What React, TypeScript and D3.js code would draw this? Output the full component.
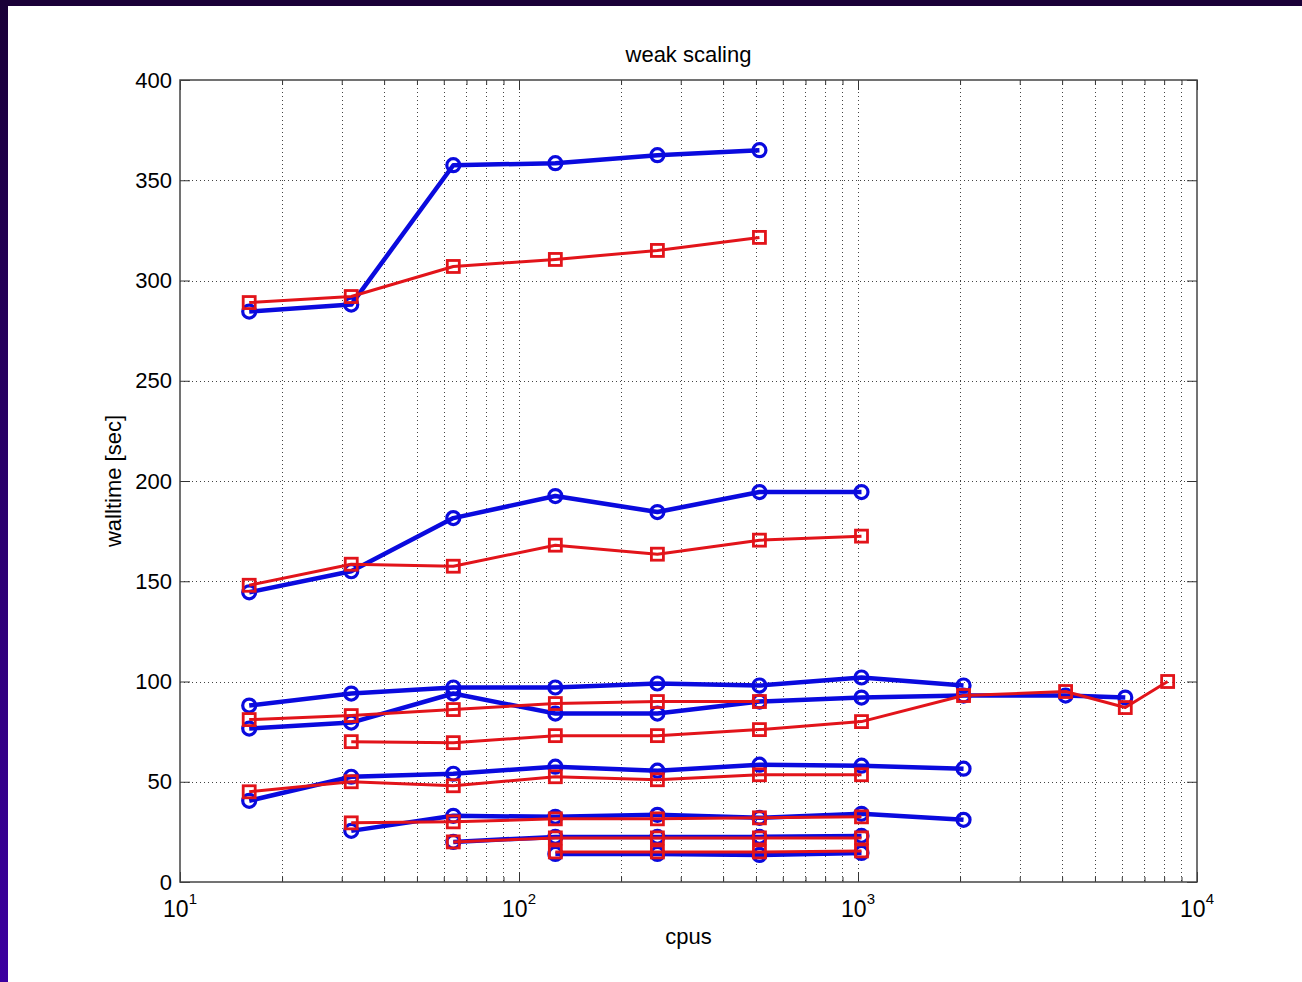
import React, { useEffect, useRef } from 'react'
import * as d3 from 'd3'

// processor counts on the x axis
const cpus = [16, 32, 64, 128, 256, 512, 1024, 2048, 4096, 6144, 8192];
const yTicks = [0, 50, 100, 150, 200, 250, 300, 350, 400];
const xExponents = [1, 2, 3, 4];

// walltime [sec], each series starts at cpus[start]
const blueTop = [284.5, 288, 357.5, 358.5, 362.5, 365];
const redTop = [289, 292, 307, 310.5, 315, 321.5];
const blueMid = [144.5, 155, 181.5, 192.5, 184.5, 194.5, 194.5];
const redMid = [148, 158.5, 157.5, 168, 163.5, 170.5, 172.5];
const blueA = [88, 94, 97, 97, 99, 98, 102, 98];
const blueB = [76.5, 79.5, 94, 84, 84, 90, 92, 93, 93, 92];
const redC = [81, 83, 86, 89, 90, 90];
const redD = [70, 69.5, 73, 73, 76, 80, 93, 95, 87, 100];
const blueE = [40.5, 52.5, 54, 57.5, 55.5, 58.5, 58, 56.5];
const redF = [45, 50, 48, 52.5, 51, 53.5, 53.5];
const blueG = [25.5, 33, 32.5, 33.5, 32, 34, 31];
const redH = [29.5, 30, 31.5, 31.5, 32, 32.5];
const blueI = [20, 22.5, 22.5, 22.5, 23];
const redJ = [20, 22, 22, 22, 22];
const blueK = [14, 14, 13.5, 14.5];
const redL = [15, 15, 15, 15.5];

const BLUE = '#0a0ade';
const RED = '#e2141a';

const blueSeries = [
    {values: blueTop, start: 0},
    {values: blueMid, start: 0},
    {values: blueA, start: 0},
    {values: blueB, start: 0},
    {values: blueE, start: 0},
    {values: blueG, start: 1},
    {values: blueI, start: 2},
    {values: blueK, start: 3},
];
const redSeries = [
    {values: redTop, start: 0},
    {values: redMid, start: 0},
    {values: redC, start: 0},
    {values: redD, start: 1},
    {values: redF, start: 0},
    {values: redH, start: 1},
    {values: redJ, start: 2},
    {values: redL, start: 3},
];

const FONT = 'Arial, "Liberation Sans", Helvetica, sans-serif';

export default function App() {
    const ref = useRef<SVGSVGElement>(null);

    useEffect(() => {
        const svg = d3.select(ref.current);
        svg.selectAll('*').remove();

        const W = 1302, H = 982;
        const left = 180, top = 80, right = 1197, bottom = 882;

        const x = d3.scaleLog().domain([10, 10000]).range([left, right]);
        const y = d3.scaleLinear().domain([0, 400]).range([bottom, top]);

        // slide background
        const defs = svg.append('defs');
        const grad = defs.append('linearGradient').attr('id', 'edge')
            .attr('x1', 0).attr('y1', 0).attr('x2', 0).attr('y2', 1);
        grad.append('stop').attr('offset', '0%').attr('stop-color', '#1a0038');
        grad.append('stop').attr('offset', '100%').attr('stop-color', '#3c00a0');

        svg.append('rect').attr('width', W).attr('height', H).attr('fill', '#fff');
        svg.append('rect').attr('width', W).attr('height', 6).attr('fill', '#1a0038');
        svg.append('rect').attr('width', 8).attr('height', H).attr('fill', 'url(#edge)');

        // grid
        const minor: number[] = [];
        [1, 2, 3].forEach(e => {
            for (let m = 1; m <= 9; m++) {
                if (!(e === 1 && m === 1)) minor.push(m * Math.pow(10, e));
            }
        });
        const grid = svg.append('g').attr('stroke', '#444').attr('stroke-width', 1)
            .attr('stroke-dasharray', '1 3');
        grid.selectAll('.vx').data(minor).enter().append('line')
            .attr('x1', d => Math.round(x(d)) + 0.5).attr('x2', d => Math.round(x(d)) + 0.5)
            .attr('y1', top).attr('y2', bottom);
        grid.selectAll('.hy').data(yTicks.slice(1, -1)).enter().append('line')
            .attr('y1', d => Math.round(y(d)) + 0.5).attr('y2', d => Math.round(y(d)) + 0.5)
            .attr('x1', left).attr('x2', right);

        // axes with inward ticks
        const majors = xExponents.map(e => Math.pow(10, e));
        const minorOnly = minor.filter(d => !majors.includes(d));
        const axisColor = '#333';
        const styleAxis = (g: any) => {
            g.select('.domain').remove();
            g.selectAll('line').attr('stroke', axisColor).attr('stroke-width', 1);
        };
        svg.append('g').attr('transform', `translate(0,${bottom})`)
            .call(d3.axisBottom(x).tickValues(majors).tickSize(-10).tickFormat(() => ''))
            .call(styleAxis);
        svg.append('g').attr('transform', `translate(0,${bottom})`)
            .call(d3.axisBottom(x).tickValues(minorOnly).tickSize(-5).tickFormat(() => ''))
            .call(styleAxis);
        svg.append('g').attr('transform', `translate(0,${top})`)
            .call(d3.axisTop(x).tickValues(majors).tickSize(-10).tickFormat(() => ''))
            .call(styleAxis);
        svg.append('g').attr('transform', `translate(0,${top})`)
            .call(d3.axisTop(x).tickValues(minorOnly).tickSize(-5).tickFormat(() => ''))
            .call(styleAxis);
        const yl = svg.append('g').attr('transform', `translate(${left},0)`)
            .call(d3.axisLeft(y).tickValues(yTicks).tickSize(-10).tickPadding(8))
            .call(styleAxis);
        yl.selectAll('text').attr('font-family', FONT).attr('font-size', 22).attr('fill', '#000');
        svg.append('g').attr('transform', `translate(${right},0)`)
            .call(d3.axisRight(y).tickValues(yTicks).tickSize(-10).tickFormat(() => ''))
            .call(styleAxis);

        // x labels 10^n
        const xl = svg.append('g').attr('font-family', FONT).attr('fill', '#000');
        xExponents.forEach(e => {
            const t = xl.append('text').attr('x', x(Math.pow(10, e))).attr('y', 917)
                .attr('text-anchor', 'middle').attr('font-size', 23);
            t.append('tspan').text('10');
            t.append('tspan').attr('dy', -13).attr('font-size', 15).text(String(e));
        });

        // data
        const line = d3.line<[number, number]>().x(d => x(d[0])).y(d => y(d[1]));
        const points = (s: {values: number[], start: number}) =>
            s.values.map((v, i) => [cpus[s.start + i], v] as [number, number]);

        const drawSeries = (list: {values: number[], start: number}[], color: string, marker: string) => {
            list.forEach(s => {
                const pts = points(s);
                const g = svg.append('g');
                g.append('path').attr('d', line(pts)).attr('fill', 'none').attr('stroke', color)
                    .attr('stroke-width', marker === 'circle' ? 4.5 : 3).attr('stroke-linejoin', 'round');
                if (marker === 'circle') {
                    g.selectAll('circle').data(pts).enter().append('circle')
                        .attr('cx', d => x(d[0])).attr('cy', d => y(d[1])).attr('r', 6.5)
                        .attr('fill', 'none').attr('stroke', color).attr('stroke-width', 3.2);
                } else {
                    g.selectAll('rect').data(pts).enter().append('rect')
                        .attr('x', d => x(d[0]) - 6).attr('y', d => y(d[1]) - 6)
                        .attr('width', 12).attr('height', 12)
                        .attr('fill', 'none').attr('stroke', color).attr('stroke-width', 2.8);
                }
            });
        };
        drawSeries(blueSeries, BLUE, 'circle');
        drawSeries(redSeries, RED, 'square');

        // frame
        svg.append('rect').attr('x', left).attr('y', top).attr('width', right - left).attr('height', bottom - top)
            .attr('fill', 'none').attr('stroke', '#444').attr('stroke-width', 1.5);

        // titles
        svg.append('text').attr('x', (left + right) / 2).attr('y', 62).attr('text-anchor', 'middle')
            .attr('font-family', FONT).attr('font-size', 22).text('weak scaling');
        svg.append('text').attr('x', (left + right) / 2).attr('y', 944).attr('text-anchor', 'middle')
            .attr('font-family', FONT).attr('font-size', 22).text('cpus');
        svg.append('text').attr('transform', `translate(121,${(top + bottom) / 2}) rotate(-90)`)
            .attr('text-anchor', 'middle').attr('font-family', FONT).attr('font-size', 22)
            .text('walltime [sec]');
    }, []);

    return (
        <div style={{position: 'absolute', left: 0, top: 0}}>
            <svg ref={ref} width={1302} height={982} style={{display: 'block'}}></svg>
        </div>
    );
}
